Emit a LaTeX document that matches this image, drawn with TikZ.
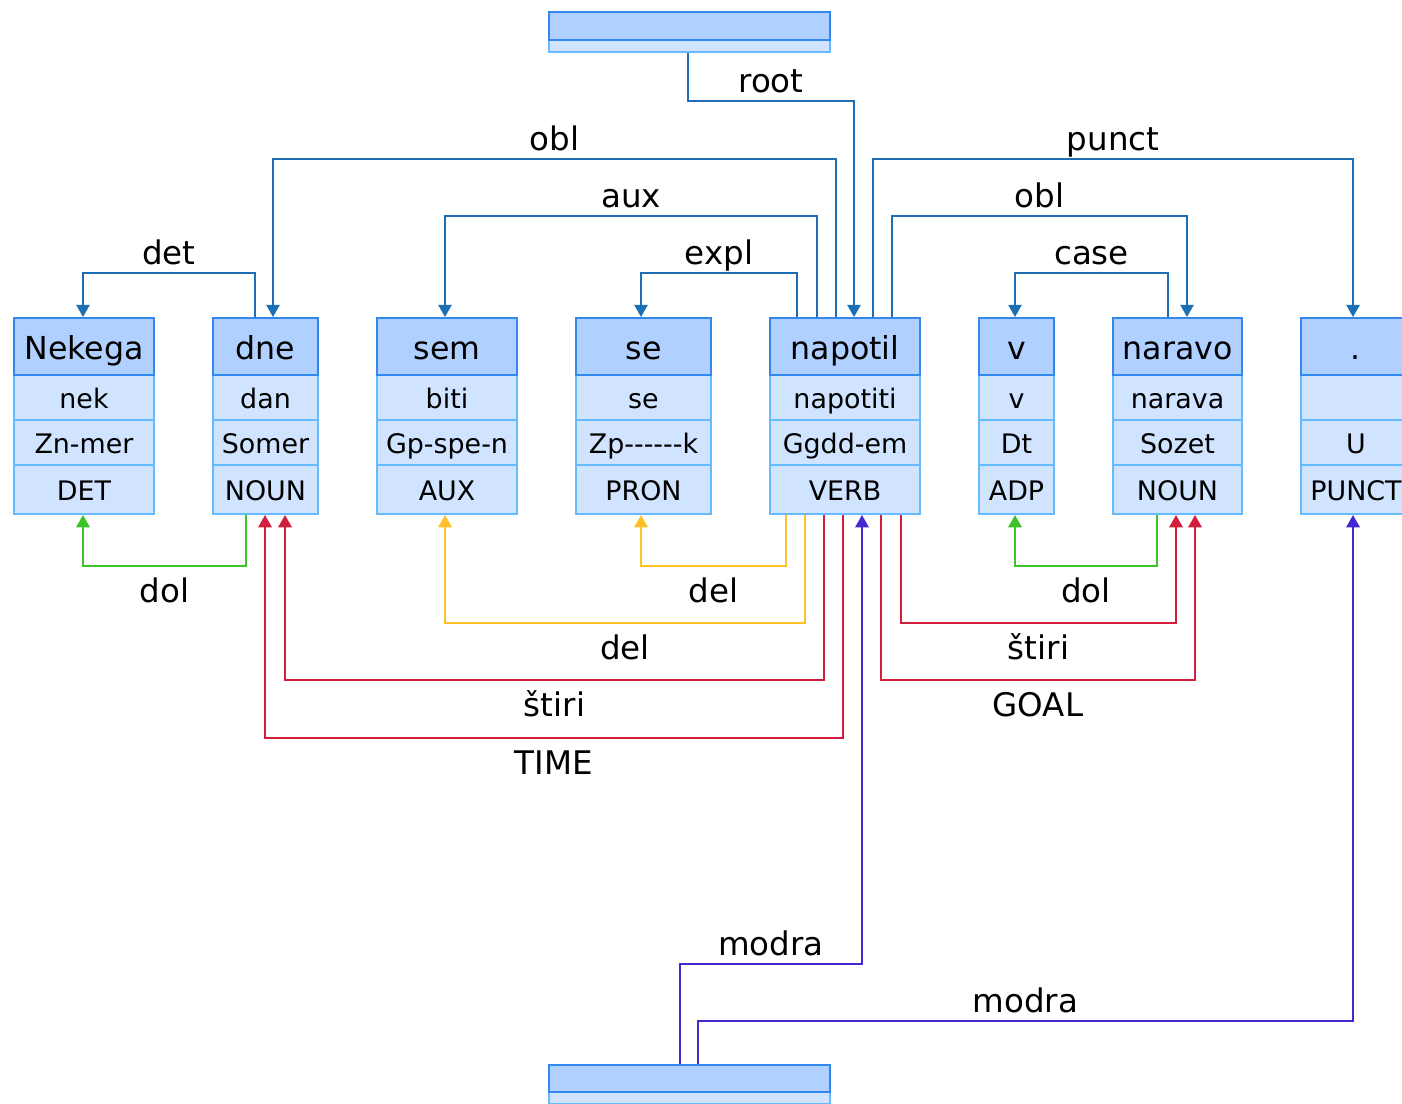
\documentclass[tikz,border=0pt]{standalone}
\usepackage{fontspec}
\setmainfont{DejaVu Sans}
\usetikzlibrary{arrows.meta}

\definecolor{wordfill}{RGB}{176,208,255}
\definecolor{worddraw}{RGB}{51,136,238}
\definecolor{rowfill}{RGB}{208,228,255}
\definecolor{rowdraw}{RGB}{102,187,255}
\definecolor{edgeblue}{RGB}{30,110,180}
\definecolor{dolgreen}{RGB}{60,195,40}
\definecolor{delyellow}{RGB}{255,192,40}
\definecolor{stred}{RGB}{210,30,60}
\definecolor{modrapurple}{RGB}{70,40,210}

\tikzset{
    cell/.style={draw=rowdraw, fill=rowfill, line width=1.1pt, inner sep=0pt,
        font=\fontsize{15.3}{17}\selectfont, text height=13pt, text depth=0pt},
    wordcell/.style={cell, draw=worddraw, fill=wordfill,
        font=\fontsize{18}{21}\selectfont, text height=16pt, text depth=1pt},
    bar/.style={text height=0pt, text depth=0pt},
    dep/.style={line width=1.4pt, -{Triangle[width=7.5pt,length=7pt]}},
    uplab/.style={anchor=base, yshift=5pt, text=black, font=\fontsize{18.5}{20}\selectfont},
    downlab/.style={anchor=base, yshift=-20.5pt, text=black, font=\fontsize{18.5}{20}\selectfont}
}

\begin{document}
\begin{tikzpicture}[x=0.02cm, y=-0.02cm]
            \useasboundingbox (0,0) rectangle (1402,1103);

            % tokens
            \foreach \n/\a/\b/\w/\l/\m/\p in {nekega/14/154/Nekega/nek/Zn-mer/DET,
                dne/213/318/dne/dan/Somer/NOUN, sem/377/517/sem/biti/Gp-spe-n/AUX,
                se/576/711/se/se/Zp{-}{-}{-}{-}{-}{-}k/PRON,
                napotil/770/920/napotil/napotiti/Ggdd-em/VERB, v/979/1054/v/v/Dt/ADP,
                naravo/1113/1242/naravo/narava/Sozet/NOUN, punc/1301/1411/./{}/U/PUNCT}
                {
                    \pgfmathsetmacro\cellw{(\b-\a)*0.02}
                    \pgfmathsetmacro\xc{(\a+\b)/2}
                    \node[cell, minimum width=\cellw cm, minimum height=0.98cm] (\n-pos) at (\xc,489.5) {\p};
                    \node[cell, minimum width=\cellw cm, minimum height=0.9cm] (\n-msd) at (\xc,442.5) {\m};
                    \node[cell, minimum width=\cellw cm, minimum height=0.9cm] (\n-lem) at (\xc,397.5) {\l};
                    \node[wordcell, minimum width=\cellw cm, minimum height=1.14cm] (\n) at (\xc,346.5) {\w};
                }

            % root and sentence boxes
            \node[cell, bar, minimum width=5.62cm, minimum height=0.24cm] (root-lo) at (689.5,46) {};
            \node[wordcell, bar, minimum width=5.62cm, minimum height=0.56cm] (root) at (689.5,26) {};
            \node[cell, bar, minimum width=5.62cm, minimum height=0.24cm] (sent-lo) at (689.5,1098) {};
            \node[wordcell, bar, minimum width=5.62cm, minimum height=0.54cm] (sent) at (689.5,1078.5) {};

            % edges above
            \draw[dep, edgeblue] (688,0 |- root-lo.south) -- (688,101) -- node[uplab] {root} (854,101) -- (854,0 |- napotil.north);
            \foreach \f/\xa/\y/\xb/\t/\lab in {dne/255/273/83/nekega/det,
                napotil/797/273/641/se/expl, napotil/817/216/445/sem/aux,
                napotil/836/159/273/dne/obl, napotil/873/159/1353/punc/punct,
                napotil/892/216/1187/naravo/obl, naravo/1168/273/1015/v/case}
                {
                    \draw[dep, edgeblue] (\xa,0 |- \f.north) -- (\xa,\y) -- node[uplab] {\lab} (\xb,\y) -- (\xb,0 |- \t.north);
                }

            % edges below
            \foreach \f/\xa/\y/\xb/\t/\c/\lab in {dne/246/566/83/nekega/dolgreen/dol,
                napotil/786/566/641/se/delyellow/del, napotil/805/623/445/sem/delyellow/del,
                napotil/824/680/285/dne/stred/štiri, napotil/843/738/265/dne/stred/TIME,
                napotil/901/623/1176/naravo/stred/štiri, napotil/881/680/1195/naravo/stred/GOAL,
                naravo/1157/566/1015/v/dolgreen/dol}
                {
                    \draw[dep, draw=\c] (\xa,0 |- \f-pos.south) -- (\xa,\y) -- node[downlab] {\lab} (\xb,\y) -- (\xb,0 |- \t-pos.south);
                }

            % modra
            \draw[dep, modrapurple] (680,0 |- sent.north) -- (680,964) -- node[uplab] {modra} (862,964) -- (862,0 |- napotil-pos.south);
            \draw[dep, modrapurple] (698,0 |- sent.north) -- (698,1021) -- node[uplab] {modra} (1353,1021) -- (1353,0 |- punc-pos.south);

        \end{tikzpicture}
\end{document}
